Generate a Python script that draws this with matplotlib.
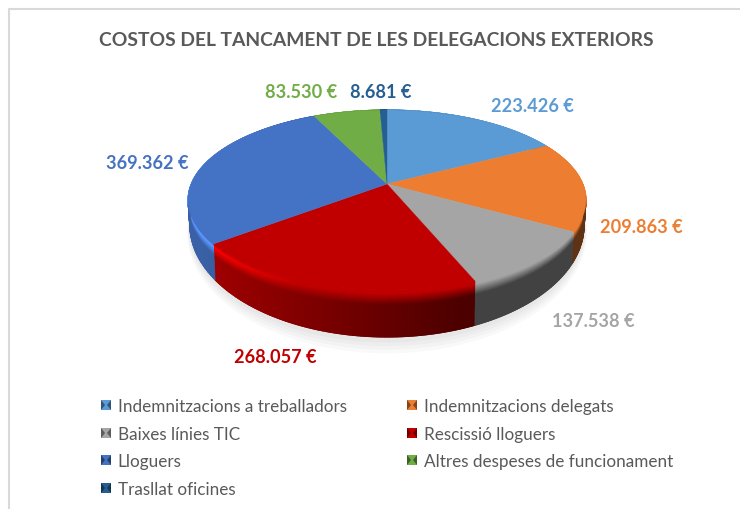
import numpy as np
import matplotlib
matplotlib.use('Agg')
import matplotlib.pyplot as plt
from matplotlib.collections import LineCollection
from matplotlib.patches import Polygon

plt.rcParams['font.family'] = ['Lato', 'DejaVu Sans']

title = 'COSTOS DEL TANCAMENT DE LES DELEGACIONS EXTERIORS'
categories = ['Indemnitzacions a treballadors', 'Indemnitzacions delegats', 'Baixes línies TIC',
              'Rescissió lloguers', 'Lloguers', 'Altres despeses de funcionament', 'Trasllat oficines']
values = [223426, 209863, 137538, 268057, 369362, 83530, 8681]
value_labels = ['223.426 €', '209.863 €', '137.538 €', '268.057 €', '369.362 €', '83.530 €', '8.681 €']
colors = ['#5B9BD5', '#ED7D31', '#A5A5A5', '#C00000', '#4472C4', '#70AD47', '#255E91']
label_xy = [(532, 106), (641, 228), (593, 322), (275, 358), (147, 164), (301, 93), (381, 92)]

K = 0.178


def rgb(c):
    return np.array(matplotlib.colors.to_rgb(c))


def project(theta, cy, a, b):
    # circle seen in perspective, the far side is squeezed
    w = 1 + K * np.cos(theta)
    return 387 + a * np.sin(theta) / w, cy - b * np.cos(theta) / w


def top_edge(theta):
    return project(theta, 185, 195.8, 87.2)


def bottom_edge(theta):
    return project(theta, 206, 194, 108.5)


def wall_shade(x, t):
    f = 0.85 - 0.45 * np.clip((x - 200) / 260, 0, 1)
    light = 1 + 0.4 * np.clip((300 - x) / 100, 0, 1)
    if t < 0.08:
        return 1 + (light - 1) * t / 0.08
    if t < 0.32:
        return light + (f - light) * (t - 0.08) / 0.24
    return f


def draw_pie(ax):
    edges = np.cumsum([0] + values) / sum(values) * 2 * np.pi

    # soft shadow under the pie
    th = np.linspace(0, 2 * np.pi, 200)
    for grow in [9, 7, 5, 3]:
        x, y = project(th, 206 + grow * 0.6, 194 + grow * 0.3, 108.5 + grow)
        ax.add_patch(Polygon(np.c_[x, y], fc='#000000', ec='none', alpha=0.025, zorder=1))

    rows = np.r_[np.linspace(0, 0.32, 9), 0.5, 1]
    for i, base in enumerate(colors):
        n = max(3, int((edges[i + 1] - edges[i]) * 60))
        th = np.linspace(edges[i], edges[i + 1], n)
        xa, ya = top_edge(th)
        xb, yb = bottom_edge(th)
        X = np.array([xa + (xb - xa) * r for r in rows])
        Y = np.array([ya + (yb - ya) * r for r in rows])
        C = np.zeros(X.shape + (3,))
        for r, t in enumerate(rows):
            for j in range(n):
                C[r, j] = np.clip(rgb(base) * wall_shade(xa[j], t), 0, 1)
        ax.pcolormesh(X, Y, C, shading='gouraud', zorder=2)
        # smooth the lower rim
        segs = np.stack([np.c_[xb[:-1], yb[:-1]], np.c_[xb[1:], yb[1:]]], axis=1)
        ax.add_collection(LineCollection(segs, colors=C[-1, :-1], linewidths=0.8, zorder=2))

    # top face goes over the back of the wall
    for i, base in enumerate(colors):
        th = np.linspace(edges[i], edges[i + 1], 80)
        x, y = top_edge(th)
        ax.add_patch(Polygon(np.r_[[[387, 185]], np.c_[x, y]], fc=base, ec=base, lw=0.3, zorder=3))


def draw_legend(ax):
    for i, name in enumerate(categories):
        x0 = 101 if i % 2 == 0 else 407
        y0 = [406, 434, 461, 489][i // 2]
        c = rgb(colors[i])
        ax.add_patch(Polygon([(x0, y0 - 5), (x0 + 10, y0 - 5), (x0 + 10, y0 + 5), (x0, y0 + 5)],
                             fc=c, ec='none', zorder=3))
        ax.add_patch(Polygon([(x0, y0 - 5), (x0 + 4, y0), (x0, y0 + 5)], fc=c * 0.55, ec='none', zorder=4))
        ax.add_patch(Polygon([(x0 + 10, y0 - 5), (x0 + 6, y0), (x0 + 10, y0 + 5)], fc=c * 0.55, ec='none', zorder=4))
        ax.text(x0 + 16.5, y0 + 1.2, name, color='#595959', fontsize=12.35, va='center', ha='left')


def main():
    fig = plt.figure(figsize=(7.4, 5.1), dpi=100)
    ax = fig.add_axes([0, 0, 1, 1])
    ax.set_xlim(0, 740)
    ax.set_ylim(510, 0)
    ax.axis('off')

    ax.plot([9, 9, 740], [510, 10, 10], color='#d9d9d9', lw=1.5, zorder=1)
    ax.text(376, 40, title, color='#595959', fontsize=13.9, fontweight='bold', ha='center', va='center')

    draw_pie(ax)

    for (x, y), lab, c in zip(label_xy, value_labels, colors):
        ax.text(x, y, lab, color=c, fontsize=13.1, fontweight='bold', ha='center', va='center')

    draw_legend(ax)
    fig.savefig('out.png', dpi=100)


if __name__ == "__main__":
    main()
